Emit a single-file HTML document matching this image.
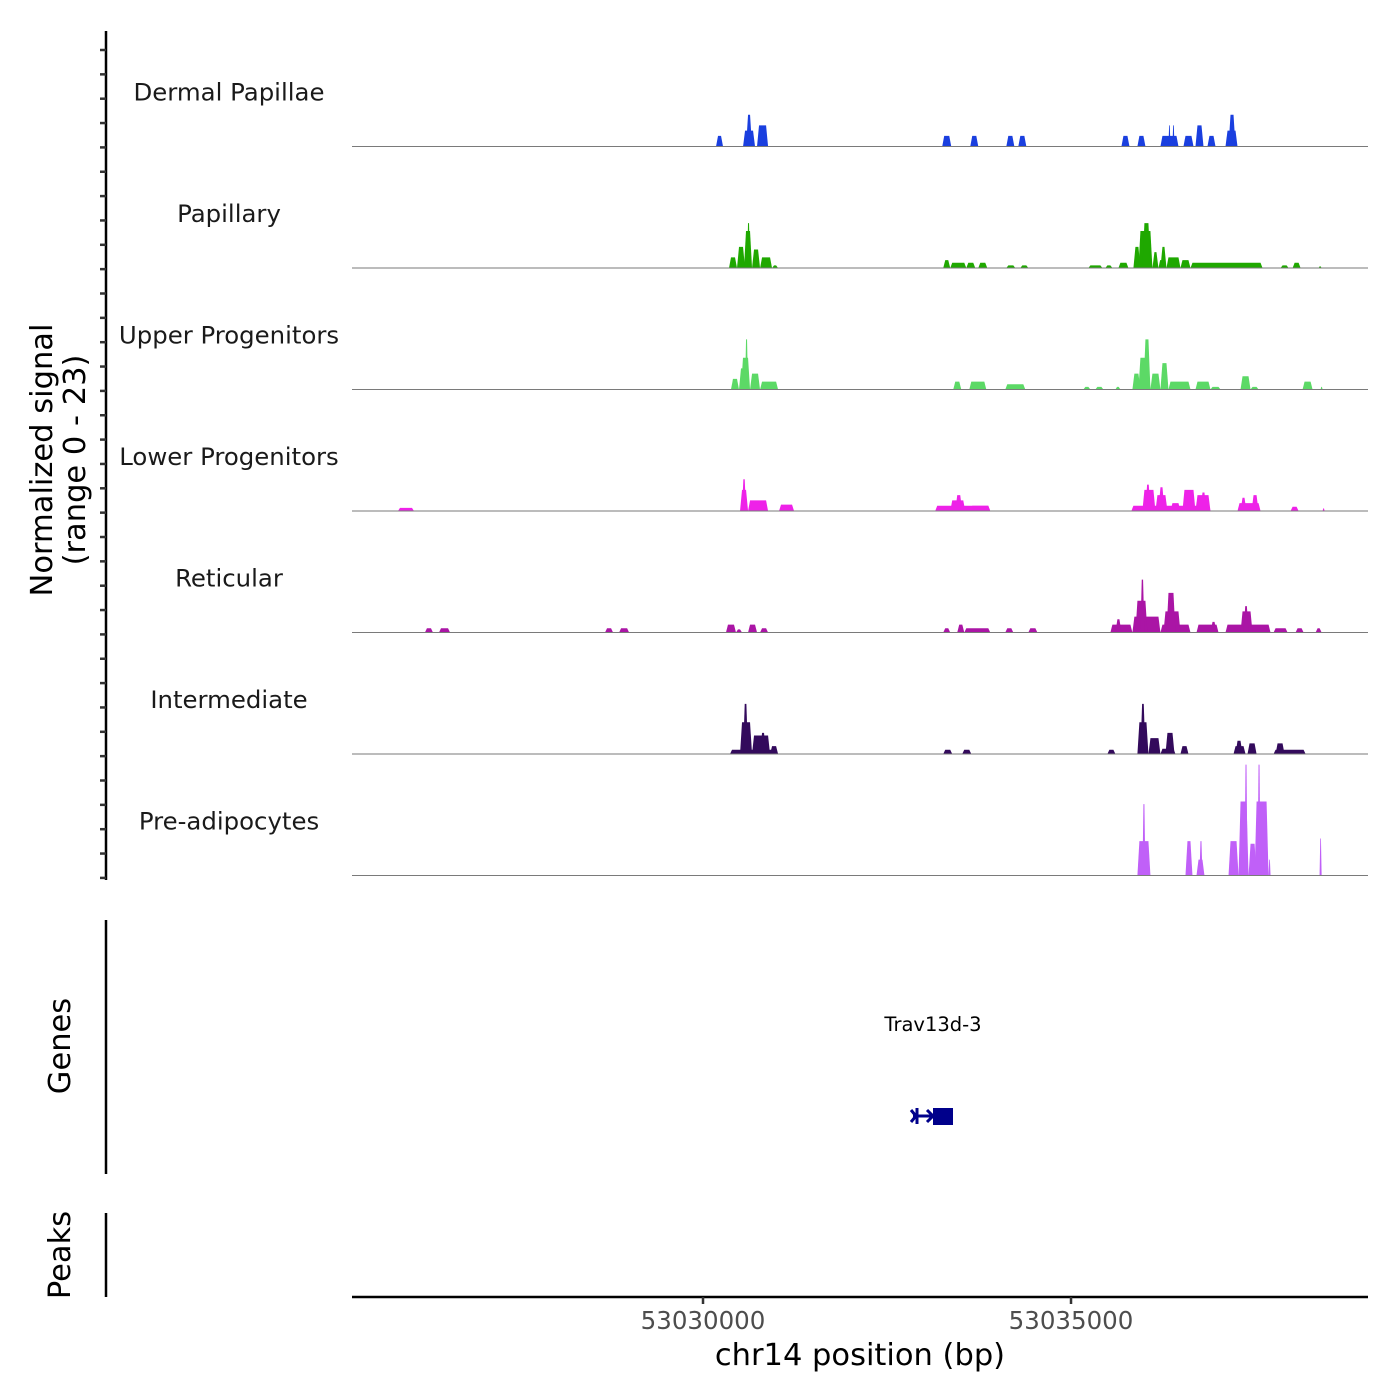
<!DOCTYPE html>
<html><head><meta charset="utf-8"><style>
body{margin:0;background:#fff}
svg{display:block;font-family:"DejaVu Sans","Liberation Sans",sans-serif}
</style></head><body>
<svg id="chart" width="1400" height="1400" viewBox="0 0 1400 1400">
<line x1="106" y1="31" x2="106" y2="880" stroke="#000" stroke-width="2.5"/>
<g id="yticks"></g>
<text transform="translate(52,460) rotate(-90)" text-anchor="middle" font-size="30.5" fill="#000">Normalized signal</text>
<text transform="translate(85,460) rotate(-90)" text-anchor="middle" font-size="30.5" fill="#000">(range 0 - 23)</text>
<g id="tracks"></g>
<line x1="106" y1="920" x2="106" y2="1174" stroke="#000" stroke-width="2.5"/>
<text transform="translate(70,1046) rotate(-90)" text-anchor="middle" font-size="30.5">Genes</text>
<text x="933" y="1031" text-anchor="middle" font-size="19.5">Trav13d-3</text>
<g stroke="#00008b" fill="#00008b">
<line x1="913" y1="1116" x2="953" y2="1116" stroke-width="3"/>
<rect x="933" y="1108" width="20" height="17" stroke="none"/>
<polyline points="911,1110 916,1116 911,1122" fill="none" stroke-width="3"/>
<polyline points="927,1110 933,1116 927,1122" fill="none" stroke-width="3"/>
<line x1="917" y1="1108" x2="917" y2="1124" stroke-width="3"/>
</g>
<line x1="106" y1="1213" x2="106" y2="1297" stroke="#000" stroke-width="2.5"/>
<text transform="translate(70,1255) rotate(-90)" text-anchor="middle" font-size="30.5">Peaks</text>
<line x1="352" y1="1297" x2="1368" y2="1297" stroke="#000" stroke-width="2.5"/>
<g id="xticks"></g>
<text x="860" y="1365" text-anchor="middle" font-size="30.5">chr14 position (bp)</text>
</svg>
<script>
const trackNames=["Dermal Papillae","Papillary","Upper Progenitors","Lower Progenitors","Reticular","Intermediate","Pre-adipocytes"];
const trackColors=["#1a3fdf","#1fa800","#5cd966","#ee22e8","#aa15a5","#330a5c","#c060f8"];
const xTickValues=[53030000,53035000];
const xDomain=[53025231,53039035];
const yMax=23;
// peaks: [startBp, endBp, signal]
const peaksDermal=[[53030177,53030272,2],[53030544,53030707,3],[53030585,53030666,6],[53030734,53030884,4],[53033250,53033373,2],[53033631,53033740,2],[53034121,53034230,2],[53034284,53034393,2],[53035685,53035794,2],[53035902,53036011,2],[53036215,53036460,2],[53036324,53036351,4],[53036378,53036406,4],[53036528,53036664,2],[53036691,53036800,4],[53036854,53036963,2],[53037099,53037262,3],[53037140,53037235,6]];
const peaksPapillary=[[53030353,53030462,2],[53030462,53030571,4],[53030557,53030666,7],[53030598,53030639,8.5],[53030666,53030775,3.5],[53030775,53030938,2],[53030938,53031020,0.5],[53033264,53033359,1.5],[53033359,53033577,1],[53033577,53033699,1],[53033740,53033862,1],[53034121,53034243,0.5],[53034311,53034420,0.5],[53035236,53035426,0.5],[53035467,53035562,0.5],[53035644,53035780,1],[53035848,53035943,4],[53035916,53036106,7],[53035970,53036079,8.5],[53036106,53036188,3],[53036188,53036256,1.5],[53036215,53036297,4],[53036297,53036487,2],[53036487,53036623,1.5],[53036623,53037602,1],[53037847,53037956,0.5],[53038011,53038119,1],[53038364,53038405,0.3]];
const peaksUpper=[[53030380,53030489,2],[53030489,53030571,4],[53030516,53030639,6],[53030571,53030612,9.5],[53030639,53030775,3],[53030775,53031020,1.5],[53033400,53033509,1.5],[53033618,53033849,1.5],[53034107,53034379,1],[53035168,53035263,0.5],[53035331,53035440,0.5],[53035603,53035671,0.5],[53035834,53035943,3],[53035916,53036079,6],[53035984,53036079,9.5],[53036079,53036215,3],[53036215,53036324,5],[53036324,53036623,1.5],[53036691,53036895,1.5],[53036895,53037031,0.5],[53037303,53037439,2.5],[53037439,53037548,0.5],[53038146,53038282,1.5],[53038391,53038418,0.5]];
const peaksLower=[[53025856,53026073,0.6],[53030503,53030612,4],[53030530,53030585,6],[53030612,53030884,2],[53031033,53031237,1.2],[53033155,53033903,1],[53033359,53033563,2],[53033427,53033522,3],[53033631,53033903,1],[53035820,53036895,1],[53035970,53036147,4],[53036011,53036079,5],[53036147,53036310,3],[53036188,53036270,4.5],[53036351,53036487,1.5],[53036514,53036691,4],[53036691,53036895,3],[53036759,53036840,3.5],[53037262,53037575,1.5],[53037303,53037384,2.5],[53037453,53037548,3],[53037983,53038092,0.8],[53038418,53038446,0.5]];
const peaksReticular=[[53026222,53026331,0.8],[53026413,53026563,0.8],[53028669,53028778,0.8],[53028860,53028996,0.8],[53030312,53030448,1.5],[53030448,53030530,0.6],[53030612,53030734,1.5],[53030775,53030884,0.8],[53033264,53033359,0.8],[53033454,53033550,1.5],[53033550,53033903,0.8],[53034107,53034216,0.8],[53034420,53034543,0.8],[53035535,53035834,1.5],[53035603,53035685,2.5],[53035834,53036215,3],[53035875,53036038,6],[53035943,53035997,10],[53036215,53036623,1.5],[53036256,53036487,4],[53036297,53036419,7.5],[53036705,53037004,1.5],[53036895,53036977,2],[53037099,53037711,1.5],[53037303,53037466,4],[53037344,53037412,5],[53037752,53037942,0.8],[53038051,53038160,0.8],[53038323,53038405,0.8]];
const peaksIntermediate=[[53030367,53031020,0.8],[53030503,53030666,6],[53030544,53030612,9.5],[53030666,53030911,3.5],[53030775,53030856,4],[53030911,53031020,1.5],[53033264,53033386,0.8],[53033522,53033645,0.8],[53035494,53035603,0.8],[53035902,53036052,6],[53035943,53036011,9.5],[53036052,53036215,3],[53036215,53036419,1],[53036283,53036406,4],[53036487,53036596,1.5],[53037208,53037371,1.5],[53037235,53037330,2.5],[53037398,53037521,2],[53037752,53038187,0.8],[53037779,53037901,2]];
const peaksPreadipo=[[53035902,53036079,6.5],[53035970,53036011,13.5],[53036555,53036650,6.5],[53036705,53036813,3],[53036745,53036786,6.5],[53037140,53037276,6.5],[53037276,53037412,14],[53037357,53037398,21],[53037412,53037521,6],[53037494,53037684,14],[53037534,53037575,21],[53037684,53037711,3],[53038377,53038405,7]];
const allPeaks=[peaksDermal,peaksPapillary,peaksUpper,peaksLower,peaksReticular,peaksIntermediate,peaksPreadipo];

const NS="http://www.w3.org/2000/svg";
const X0=352,X1=1368;
function xScale(bp){return X0+(bp-xDomain[0])/(xDomain[1]-xDomain[0])*(X1-X0);}
const trackTop=25,trackH=121.5;
function baseY(i){return trackTop+(i+1)*trackH;}
function yScale(i,v){return baseY(i)-v/yMax*trackH;}

const tracksG=document.getElementById('tracks');
allPeaks.forEach((peaks,i)=>{
  const g=document.createElementNS(NS,'g');
  
  
  peaks.forEach(p=>{
    const x0=xScale(p[0]),x1=xScale(p[1]),yb=baseY(i),yt=yScale(i,p[2]);
    const s=Math.min(2,(x1-x0)/3);
    const poly=document.createElementNS(NS,'polygon');
    poly.setAttribute('points',`${x0},${yb} ${x0+s},${yt} ${x1-s},${yt} ${x1},${yb}`);
    poly.setAttribute('fill',trackColors[i]);
    
    
    g.appendChild(poly);
  });
  const bl=document.createElementNS(NS,'line');
  bl.setAttribute('x1',X0);bl.setAttribute('x2',X1);
  bl.setAttribute('y1',baseY(i));bl.setAttribute('y2',baseY(i));
  bl.setAttribute('stroke','#7a7a7a');bl.setAttribute('stroke-width','1');
  
  
  g.appendChild(bl);
  const t=document.createElementNS(NS,'text');
  t.setAttribute('x',229);t.setAttribute('y',baseY(i)-46);
  t.setAttribute('text-anchor','middle');t.setAttribute('font-size','24.4');t.setAttribute('fill','#1a1a1a');
  
  
  t.textContent=trackNames[i];
  g.appendChild(t);
  tracksG.appendChild(g);
});

const yt=document.getElementById('yticks');
for(let y=50;y<=880;y+=24.35){
  const l=document.createElementNS(NS,'line');
  l.setAttribute('x1',100);l.setAttribute('x2',106);l.setAttribute('y1',y);l.setAttribute('y2',y);
  l.setAttribute('stroke','#333');l.setAttribute('stroke-width','2.5');
  
  
  yt.appendChild(l);
}
const xt=document.getElementById('xticks');
xTickValues.forEach(v=>{
  const x=xScale(v);
  const l=document.createElementNS(NS,'line');
  l.setAttribute('x1',x);l.setAttribute('x2',x);l.setAttribute('y1',1297);l.setAttribute('y2',1304);
  l.setAttribute('stroke','#333');l.setAttribute('stroke-width','2.5');
  
  
  xt.appendChild(l);
  const t=document.createElementNS(NS,'text');
  t.setAttribute('x',x);t.setAttribute('y',1329);t.setAttribute('text-anchor','middle');
  t.setAttribute('font-size','24.5');t.setAttribute('fill','#4d4d4d');
  
  
  t.textContent=v;
  xt.appendChild(t);
});
</script>
</body></html>
